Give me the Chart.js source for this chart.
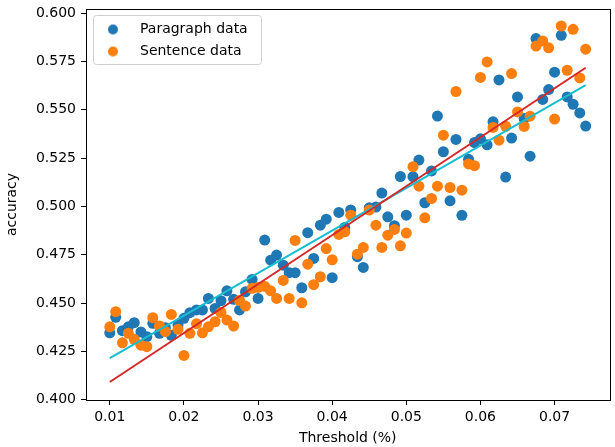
<!DOCTYPE html>
<html>
<head>
<meta charset="utf-8">
<title>Accuracy vs threshold</title>
<script src="https://cdn.jsdelivr.net/npm/chart.js@4.4.1/dist/chart.umd.min.js"></script>
<style>
  html, body { margin: 0; padding: 0; background: #fff; }
  canvas { display: block; }
</style>
</head>
<body>
<canvas id="accChart" width="615" height="447"></canvas>
<script>
// threshold values (x), one per sample
const thresholds = [
  0.0100, 0.0108, 0.0117, 0.0125, 0.0133, 0.0142, 0.0150, 0.0158, 0.0167, 0.0175,
  0.0183, 0.0192, 0.0200, 0.0208, 0.0217, 0.0225, 0.0233, 0.0242, 0.0250, 0.0258,
  0.0267, 0.0275, 0.0283, 0.0292, 0.0300, 0.0309, 0.0317, 0.0325, 0.0334, 0.0342,
  0.0350, 0.0359, 0.0367, 0.0375, 0.0384, 0.0392, 0.0400, 0.0409, 0.0417, 0.0425,
  0.0434, 0.0442, 0.0450, 0.0459, 0.0467, 0.0475, 0.0484, 0.0492, 0.0500, 0.0509,
  0.0517, 0.0525, 0.0534, 0.0542, 0.0550, 0.0559, 0.0567, 0.0575, 0.0584, 0.0592,
  0.0600, 0.0609, 0.0617, 0.0625, 0.0634, 0.0642, 0.0650, 0.0659, 0.0667, 0.0675,
  0.0684, 0.0692, 0.0700, 0.0709, 0.0717, 0.0725, 0.0734, 0.0742
];

const paragraphAcc = [
  0.4346, 0.4426, 0.4357, 0.4377, 0.4398, 0.4350, 0.4326, 0.4395, 0.4343, 0.4372,
  0.4333, 0.4386, 0.4421, 0.4450, 0.4464, 0.4464, 0.4524, 0.4472, 0.4512, 0.4563,
  0.4519, 0.4464, 0.4558, 0.4622, 0.4524, 0.4826, 0.4722, 0.4748, 0.4696, 0.4657,
  0.4657, 0.4579, 0.4864, 0.4731, 0.4903, 0.4934, 0.4631, 0.4969, 0.4891, 0.4982,
  0.4740, 0.4684, 0.4993, 0.4997, 0.5069, 0.4946, 0.4900, 0.5155, 0.4955, 0.5154,
  0.5240, 0.5019, 0.5184, 0.5468, 0.5283, 0.5029, 0.5347, 0.4954, 0.5244, 0.5331,
  0.5350, 0.5319, 0.5438, 0.5655, 0.5152, 0.5354, 0.5567, 0.5455, 0.5260, 0.5869,
  0.5554, 0.5605, 0.5695, 0.5886, 0.5567, 0.5529, 0.5484, 0.5416
];

const sentenceAcc = [
  0.4377, 0.4455, 0.4294, 0.4343, 0.4312, 0.4282, 0.4274, 0.4424, 0.4381, 0.4352,
  0.4441, 0.4364, 0.4229, 0.4343, 0.4393, 0.4346, 0.4377, 0.4403, 0.4451, 0.4412,
  0.4381, 0.4513, 0.4484, 0.4576, 0.4581, 0.4586, 0.4563, 0.4524, 0.4617, 0.4524,
  0.4824, 0.4501, 0.4701, 0.4595, 0.4636, 0.4782, 0.4724, 0.4855, 0.4869, 0.4955,
  0.4753, 0.4788, 0.4981, 0.4903, 0.4788, 0.4851, 0.4881, 0.4796, 0.4862, 0.5206,
  0.5105, 0.4941, 0.5041, 0.5105, 0.5369, 0.5098, 0.5595, 0.5084, 0.5220, 0.5211,
  0.5668, 0.5748, 0.5409, 0.5343, 0.5415, 0.5688, 0.5489, 0.5414, 0.5467, 0.5830,
  0.5857, 0.5821, 0.5452, 0.5934, 0.5705, 0.5917, 0.5665, 0.5814
];

// linear fit end points
const fitX = [0.0100, 0.0742];
const paragraphFit = [0.4215, 0.5628];
const sentenceFit = [0.4091, 0.5718];

const xTicks = [0.01, 0.02, 0.03, 0.04, 0.05, 0.06, 0.07];
const yTicks = [0.400, 0.425, 0.450, 0.475, 0.500, 0.525, 0.550, 0.575, 0.600];
const xRange = [0.00679, 0.07741];
const yRange = [0.3998, 0.6022];

const BLUE = '#1f77b4';
const ORANGE = '#ff7f0e';
const CYAN = '#17becf';
const RED = '#d62728';

const toPoints = (xs, ys) => xs.map((x, i) => ({ x: x, y: ys[i] }));

// small round marker for the legend
function legendDot(color) {
  const c = document.createElement('canvas');
  c.width = 12;
  c.height = 12;
  const g = c.getContext('2d');
  g.fillStyle = color;
  g.beginPath();
  g.arc(6, 6, 5, 0, Math.PI * 2);
  g.fill();
  return c;
}

const framePlugin = {
  id: 'frame',
  afterLayout(chart) {
    // legend inside the axes, upper left like matplotlib
    const a = chart.chartArea;
    chart.legend.left = a.left - 1;
    chart.legend.top = a.top + 5.5;
    chart.legend.bottom = a.bottom;
  },
  afterDraw(chart) {
    const { ctx, chartArea: a } = chart;
    ctx.save();
    // legend frame
    ctx.strokeStyle = '#d0d0d0';
    ctx.lineWidth = 1;
    ctx.beginPath();
    ctx.roundRect(Math.round(a.left + 7) + 0.5, Math.round(a.top + 6) + 0.5, 168, 49, 3);
    ctx.stroke();
    // axes box
    ctx.strokeStyle = '#000';
    ctx.strokeRect(Math.round(a.left) + 0.5, Math.round(a.top) + 0.5,
      Math.round(a.right) - Math.round(a.left), Math.round(a.bottom) - Math.round(a.top));
    ctx.restore();
  }
};

Chart.defaults.font.family = "'DejaVu Sans', sans-serif";
Chart.defaults.font.size = 14;
Chart.defaults.color = '#000';

const ctx = document.getElementById('accChart').getContext('2d');
new Chart(ctx, {
  type: 'scatter',
  data: {
    datasets: [
      {
        label: 'Paragraph data',
        data: toPoints(thresholds, paragraphAcc),
        backgroundColor: BLUE,
        borderColor: BLUE,
        borderWidth: 0,
        pointRadius: 5.5,
        order: 3
      },
      {
        label: 'Sentence data',
        data: toPoints(thresholds, sentenceAcc),
        backgroundColor: ORANGE,
        borderColor: ORANGE,
        borderWidth: 0,
        pointRadius: 5.5,
        order: 2
      },
      {
        label: 'paragraph fit',
        data: toPoints(fitX, paragraphFit),
        showLine: true,
        borderColor: CYAN,
        borderWidth: 2,
        pointRadius: 0,
        order: 1
      },
      {
        label: 'sentence fit',
        data: toPoints(fitX, sentenceFit),
        showLine: true,
        borderColor: RED,
        borderWidth: 2,
        pointRadius: 0,
        order: 0
      }
    ]
  },
  options: {
    responsive: false,
    animation: false,
    layout: { padding: { top: 9, right: 2.5, left: 0, bottom: 0 } },
    plugins: {
      tooltip: { enabled: false },
      legend: {
        position: 'chartArea',
        align: 'start',
        labels: {
          usePointStyle: true,
          pointStyleWidth: 40,
          padding: 8,
          color: '#000',
          font: { size: 14 },
          filter: item => item.datasetIndex < 2,
          sort: (a, b) => a.datasetIndex - b.datasetIndex,
          generateLabels(chart) {
            const items = Chart.defaults.plugins.legend.labels.generateLabels(chart);
            items.forEach(it => {
              it.pointStyle = legendDot(it.datasetIndex === 0 ? BLUE : ORANGE);
            });
            return items;
          }
        }
      }
    },
    scales: {
      x: {
        type: 'linear',
        min: xRange[0],
        max: xRange[1],
        afterBuildTicks: s => { s.ticks = xTicks.map(v => ({ value: v })); },
        afterFit: s => { s.height = 47; s.paddingLeft = 0; s.paddingRight = 0; },
        ticks: { callback: v => Number(v).toFixed(2), padding: 4, maxRotation: 0, autoSkip: false },
        grid: { drawOnChartArea: false, drawTicks: true, tickLength: 5, tickColor: '#000', tickWidth: 1 },
        border: { display: false },
        title: { display: true, text: 'Threshold (%)', padding: { top: 0, bottom: 0.5 } }
      },
      y: {
        type: 'linear',
        min: yRange[0],
        max: yRange[1],
        afterBuildTicks: s => { s.ticks = yTicks.map(v => ({ value: v })); },
        afterFit: s => { s.width = 86; s.paddingTop = 0; s.paddingBottom = 0; },
        ticks: { callback: v => Number(v).toFixed(3), padding: 5, autoSkip: false },
        grid: { drawOnChartArea: false, drawTicks: true, tickLength: 5, tickColor: '#000', tickWidth: 1 },
        border: { display: false },
        title: { display: true, text: 'accuracy', padding: { top: 4, bottom: 0 } }
      }
    }
  },
  plugins: [framePlugin]
});
</script>
</body>
</html>
